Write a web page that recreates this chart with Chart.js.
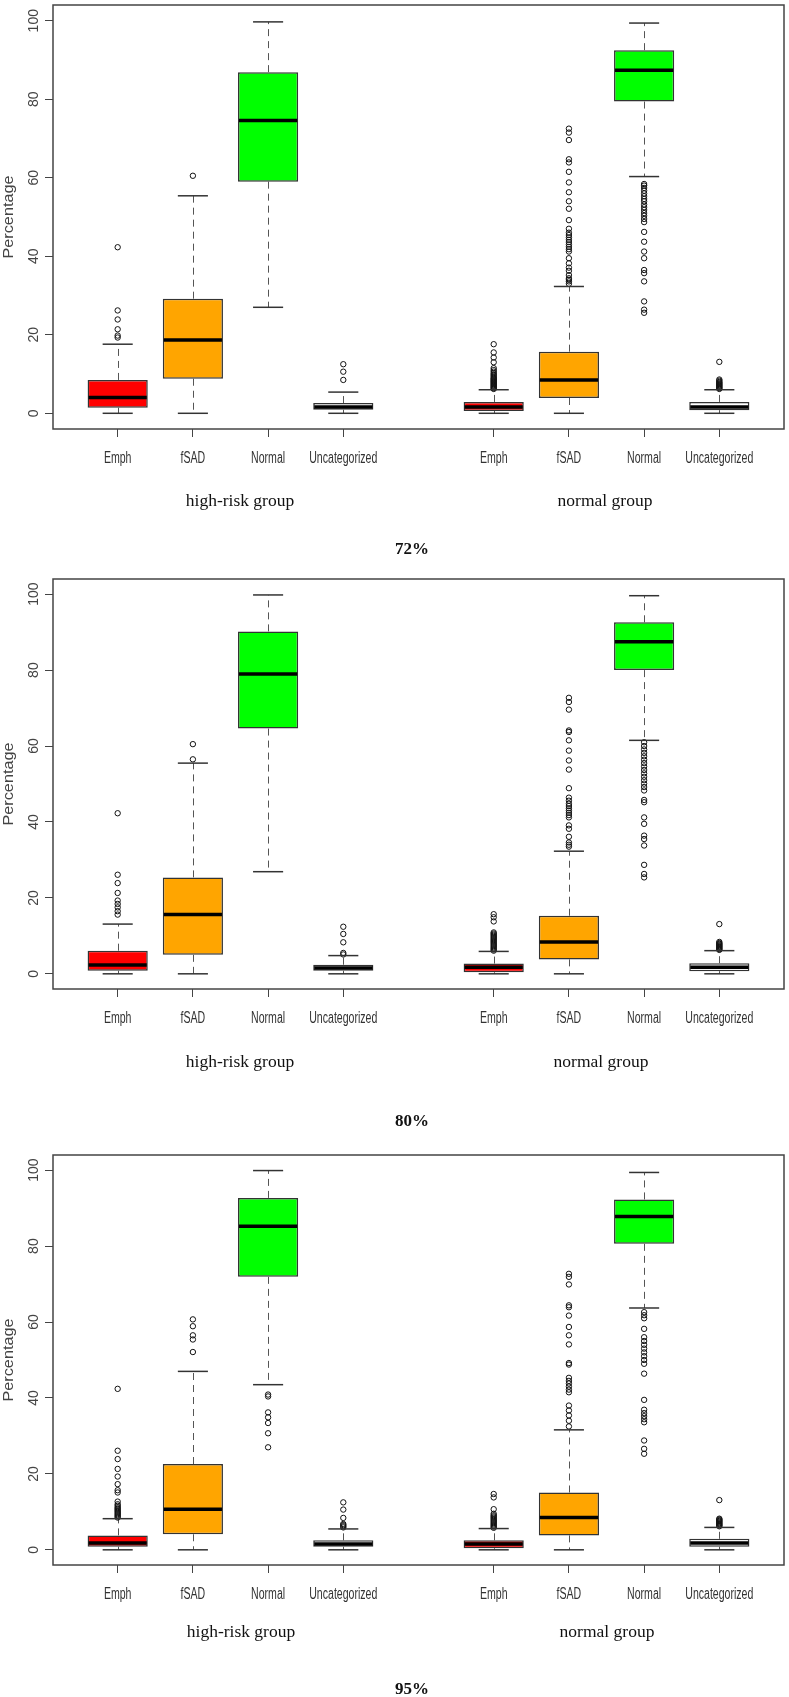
<!DOCTYPE html>
<html lang="en">
  <head>
    <meta charset="UTF-8" />
    <title>Percentage boxplots</title>
    <style>
      body {
        margin: 0;
        background: #ffffff;
        width: 789px;
        height: 1697px;
        position: relative;
        overflow: hidden;
      }
      .panel {
        position: absolute;
        left: 0;
      }
    </style>
  </head>
  <body>
    <canvas id="chart72" class="panel"></canvas>
    <canvas id="chart80" class="panel"></canvas>
    <canvas id="chart95" class="panel"></canvas>

    <script src="https://cdn.jsdelivr.net/npm/chart.js"></script>
    <script>
      // categories and groups
      const categories = ["Emph", "fSAD", "Normal", "Uncategorized"];
      const groups = ["high-risk group", "normal group"];
      const positions = [1, 2, 3, 4, 6, 7, 8, 9];
      const yTicks = [0, 20, 40, 60, 80, 100];
      const boxColors = ["#ff0000", "#ffa500", "#00ff00", "#ffffff"];
      const thresholds = ["72%", "80%", "95%"];

      // 72%
      const p72Low = [0, 0, 27.0, 0, 0, 0, 60.3, 0];
      const p72Q1 = [1.4, 8.8, 59.0, 0.9, 0.6, 3.9, 79.4, 0.8];
      const p72Med = [4.0, 18.7, 74.6, 1.6, 1.6, 8.5, 87.4, 1.6];
      const p72Q3 = [8.5, 29.2, 86.9, 2.6, 2.9, 15.7, 92.5, 2.9];
      const p72High = [17.6, 55.4, 99.7, 5.4, 6.0, 32.3, 99.4, 6.0];
      const p72Out = [
        [19.3, 19.8, 21.4, 23.9, 26.2, 42.3],
        [60.5],
        [],
        [8.5, 10.6, 12.5],
        [6.2, 6.4, 6.6, 6.8, 7.0, 7.2, 7.4, 7.6, 7.8, 8.0, 8.2, 8.4, 8.6, 8.8, 9.0, 9.3, 9.6, 9.9, 10.2, 10.6, 11.0, 11.5, 13.0, 14.2, 15.5, 17.6],
        [33.0, 33.6, 34.0, 34.4, 35.2, 36.3, 37.1, 38.2, 39.5, 41.2, 41.8, 42.4, 43.0, 43.6, 44.2, 44.8, 45.4, 46.0, 47.0, 49.2, 52.1, 54.0, 56.3, 58.8, 61.5, 63.9, 64.7, 69.6, 71.5, 72.5],
        [25.6, 26.4, 28.5, 33.6, 35.7, 36.5, 39.5, 41.2, 43.7, 46.2, 48.7, 49.5, 50.3, 51.0, 51.8, 52.5, 53.2, 54.0, 54.6, 55.3, 56.0, 56.7, 57.4, 58.0, 58.4],
        [6.2, 6.4, 6.6, 6.8, 7.0, 7.2, 7.4, 7.6, 7.8, 8.0, 8.3, 8.6, 13.1],
      ];

      // 80%
      const p80Low = [0, 0, 26.9, 0, 0, 0, 61.5, 0];
      const p80Q1 = [0.8, 5.0, 64.6, 0.8, 0.4, 3.8, 80.0, 0.7];
      const p80Med = [2.3, 15.6, 79.0, 1.5, 1.7, 8.4, 87.5, 1.7];
      const p80Q3 = [6.1, 25.4, 90.2, 2.4, 2.7, 15.3, 92.6, 2.8];
      const p80High = [13.1, 55.5, 99.8, 4.8, 5.9, 32.3, 99.6, 6.1];
      const p80Out = [
        [15.6, 16.5, 17.5, 18.4, 19.3, 21.3, 23.9, 26.1, 42.3],
        [56.5, 60.5],
        [],
        [5.1, 5.5, 8.3, 10.5, 12.4],
        [6.1, 6.4, 6.7, 7.0, 7.3, 7.6, 7.9, 8.2, 8.5, 8.8, 9.1, 9.4, 9.7, 10.0, 10.3, 10.6, 10.9, 13.8, 14.9, 15.7],
        [33.5, 34.0, 34.6, 36.1, 38.2, 39.1, 41.2, 41.8, 42.4, 43.0, 43.6, 44.2, 44.8, 45.6, 46.4, 48.9, 53.8, 56.2, 58.8, 61.5, 63.7, 64.1, 69.6, 71.6, 72.7],
        [25.4, 26.3, 28.7, 33.8, 35.5, 36.4, 39.5, 41.2, 45.2, 45.8, 48.3, 49.2, 50.1, 51.0, 51.9, 52.8, 53.7, 54.6, 55.5, 56.4, 57.3, 58.2, 59.1, 60.0, 61.0],
        [6.3, 6.5, 6.7, 6.9, 7.1, 7.3, 7.5, 7.7, 7.9, 8.1, 8.4, 13.1],
      ];

      // 95%
      const p95Low = [0, 0, 43.5, 0, 0, 0, 63.7, 0];
      const p95Q1 = [0.8, 4.1, 71.9, 0.8, 0.4, 3.8, 80.6, 0.8];
      const p95Med = [1.8, 10.7, 85.2, 1.5, 1.5, 8.5, 87.8, 1.8];
      const p95Q3 = [3.8, 22.6, 92.7, 2.5, 2.5, 15.1, 92.3, 2.9];
      const p95High = [8.2, 47.0, 99.9, 5.5, 5.6, 31.6, 99.4, 5.9];
      const p95Out = [
        [8.5, 8.8, 9.1, 9.4, 9.7, 10.0, 10.3, 10.6, 10.9, 11.2, 11.6, 12.0, 12.7, 15.1, 15.7, 17.3, 19.3, 21.3, 23.9, 26.1, 42.4],
        [52.1, 55.4, 56.5, 58.9, 60.7],
        [27.0, 30.7, 33.4, 34.9, 36.2, 40.4, 40.9],
        [5.9, 6.2, 6.5, 6.8, 8.4, 10.6, 12.5],
        [5.8, 6.1, 6.4, 6.7, 7.0, 7.3, 7.6, 7.9, 8.2, 8.5, 8.8, 9.1, 9.5, 10.7, 13.8, 14.7],
        [32.5, 34.0, 35.4, 36.7, 38.0, 41.5, 42.2, 43.0, 43.8, 44.5, 45.3, 48.8, 49.2, 54.1, 56.5, 58.7, 61.7, 63.9, 64.4, 69.9, 71.9, 72.7],
        [25.3, 26.6, 28.8, 33.6, 34.4, 35.2, 36.0, 36.9, 39.5, 46.4, 49.0, 50.0, 51.0, 52.0, 53.0, 54.0, 55.0, 56.0, 58.2, 61.0, 61.8, 62.6],
        [6.2, 6.4, 6.6, 6.8, 7.0, 7.2, 7.4, 7.6, 7.8, 8.0, 8.2, 13.1],
      ];

      const panels = [
        { id: "chart72", title: thresholds[0], low: p72Low, q1: p72Q1, med: p72Med, q3: p72Q3, high: p72High, out: p72Out },
        { id: "chart80", title: thresholds[1], low: p80Low, q1: p80Q1, med: p80Med, q3: p80Q3, high: p80High, out: p80Out },
        { id: "chart95", title: thresholds[2], low: p95Low, q1: p95Q1, med: p95Med, q3: p95Q3, high: p95High, out: p95Out },
      ];

      // where each panel sits on the page
      const layouts = [
        { top: 0, height: 570, padTop: 2, axisH: 141, groupY: 77, titleY: 554, groupX: [240, 605] },
        { top: 570, height: 575, padTop: 9, axisH: 156, groupY: 78, titleY: 556, groupX: [240, 601] },
        { top: 1145, height: 552, padTop: 10, axisH: 132, groupY: 72, titleY: 549, groupX: [241, 607] },
      ];

      function line(ctx, x1, y1, x2, y2) {
        ctx.beginPath();
        ctx.moveTo(x1, y1);
        ctx.lineTo(x2, y2);
        ctx.stroke();
      }

      // whiskers, staples, medians, frame and labels
      const boxDecor = {
        id: "boxDecor",
        beforeDatasetsDraw(chart, args, opts) {
          const { ctx, scales } = chart;
          const p = opts.panel;
          ctx.save();
          ctx.strokeStyle = "#555";
          ctx.lineWidth = 1;
          ctx.setLineDash([7, 5]);
          positions.forEach((pos, i) => {
            const cx = Math.round(scales.x.getPixelForValue(pos)) + 0.5;
            line(ctx, cx, scales.y.getPixelForValue(p.q3[i]), cx, scales.y.getPixelForValue(p.high[i]));
            line(ctx, cx, scales.y.getPixelForValue(p.q1[i]), cx, scales.y.getPixelForValue(p.low[i]));
          });
          ctx.restore();
        },
        afterDatasetsDraw(chart, args, opts) {
          const { ctx, chartArea: a, scales } = chart;
          const p = opts.panel;
          const lay = opts.layout;
          const bars = chart.getDatasetMeta(0).data;
          ctx.save();
          positions.forEach((pos, i) => {
            const cx = scales.x.getPixelForValue(pos);
            const half = bars[i].width / 2;
            const s0 = scales.x.getPixelForValue(pos - 0.2);
            const s1 = scales.x.getPixelForValue(pos + 0.2);
            ctx.strokeStyle = "#333";
            ctx.lineWidth = 1.5;
            line(ctx, s0, scales.y.getPixelForValue(p.high[i]), s1, scales.y.getPixelForValue(p.high[i]));
            line(ctx, s0, scales.y.getPixelForValue(p.low[i]), s1, scales.y.getPixelForValue(p.low[i]));
            ctx.strokeStyle = "#000";
            ctx.lineWidth = 3.5;
            const ym = scales.y.getPixelForValue(p.med[i]);
            line(ctx, cx - half + 1, ym, cx + half - 1, ym);
          });

          // frame
          ctx.strokeStyle = "#444";
          ctx.lineWidth = 1.5;
          ctx.strokeRect(a.left, a.top, a.right - a.left, a.bottom - a.top);

          // y tick labels, rotated like the original
          ctx.fillStyle = "#444";
          ctx.font = "14px 'Liberation Sans', Arial, sans-serif";
          ctx.textAlign = "center";
          ctx.textBaseline = "alphabetic";
          yTicks.forEach((v) => {
            ctx.save();
            ctx.translate(38, scales.y.getPixelForValue(v));
            ctx.rotate(-Math.PI / 2);
            ctx.fillText(String(v), 0, 0);
            ctx.restore();
          });
          ctx.save();
          ctx.translate(13, (a.top + a.bottom) / 2);
          ctx.rotate(-Math.PI / 2);
          ctx.scale(1.16, 1);
          ctx.fillText("Percentage", 0, 0);
          ctx.restore();

          // x category labels (narrow font look)
          ctx.fillStyle = "#333";
          ctx.font = "16px 'Liberation Sans', Arial, sans-serif";
          positions.forEach((pos, i) => {
            ctx.save();
            ctx.translate(scales.x.getPixelForValue(pos), a.bottom + 34);
            ctx.scale(0.66, 1);
            ctx.fillText(categories[i % 4], 0, 0);
            ctx.restore();
          });

          // group labels
          ctx.fillStyle = "#111";
          ctx.font = "17.5px 'Liberation Serif', 'Times New Roman', serif";
          groups.forEach((g, k) => {
            ctx.fillText(g, lay.groupX[k], a.bottom + lay.groupY);
          });

          // threshold title
          ctx.font = "bold 17px 'Liberation Serif', 'Times New Roman', serif";
          ctx.fillText(p.title, 412, lay.titleY);
          ctx.restore();
        },
      };

      function renderPanel(p, lay) {
        const canvas = document.getElementById(p.id);
        canvas.width = 789;
        canvas.height = lay.height;
        canvas.style.top = lay.top + "px";

        const outliers = [];
        positions.forEach((pos, i) => {
          p.out[i].forEach((v) => outliers.push({ x: pos, y: v }));
        });

        new Chart(canvas.getContext("2d"), {
          type: "bar",
          data: {
            datasets: [
              {
                type: "bar",
                data: positions.map((pos, i) => ({ x: pos, y: [p.q1[i], p.q3[i]] })),
                backgroundColor: positions.map((pos, i) => boxColors[i % 4]),
                borderColor: "#333",
                borderWidth: 1.5,
                borderSkipped: false,
                barPercentage: 0.8,
                categoryPercentage: 1.0,
              },
              {
                type: "scatter",
                data: outliers,
                pointRadius: 2.7,
                pointBorderWidth: 1,
                pointBorderColor: "#111",
                pointBackgroundColor: "rgba(0,0,0,0)",
                showLine: false,
              },
            ],
          },
          options: {
            responsive: false,
            animation: false,
            devicePixelRatio: 1,
            layout: { padding: { top: lay.padTop, right: 3, left: 0, bottom: 0 } },
            plugins: {
              legend: { display: false },
              tooltip: { enabled: false },
              boxDecor: { panel: p, layout: lay },
            },
            scales: {
              x: {
                type: "linear",
                min: 0.14,
                max: 9.86,
                offset: false,
                afterBuildTicks: (s) => {
                  s.ticks = positions.map((v) => ({ value: v }));
                },
                afterFit: (s) => {
                  s.height = lay.axisH;
                },
                ticks: { display: false },
                grid: { offset: false, drawOnChartArea: false, drawTicks: true, tickLength: 8, color: "#444", lineWidth: 1 },
                border: { display: false },
              },
              y: {
                type: "linear",
                min: -4,
                max: 104,
                afterBuildTicks: (s) => {
                  s.ticks = yTicks.map((v) => ({ value: v }));
                },
                afterFit: (s) => {
                  s.width = 53;
                },
                ticks: { display: false },
                grid: { drawOnChartArea: false, drawTicks: true, tickLength: 8, color: "#444", lineWidth: 1 },
                border: { display: false },
              },
            },
          },
          plugins: [boxDecor],
        });
      }

      window.onload = function () {
        panels.forEach((p, k) => renderPanel(p, layouts[k]));
      };
    </script>
  </body>
</html>
